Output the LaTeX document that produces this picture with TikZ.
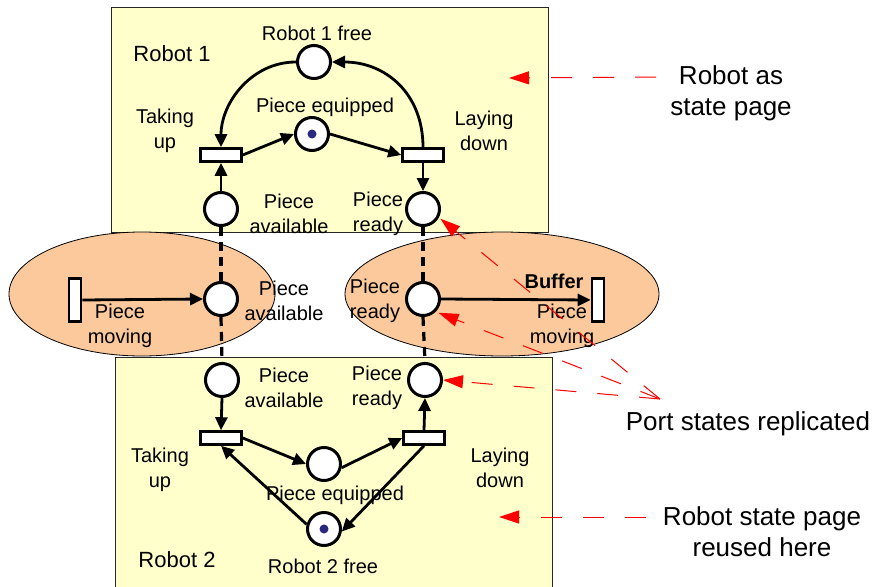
\documentclass[tikz,border=0pt]{standalone}
\usepackage{fontspec}
\setmainfont{Liberation Sans}
\usetikzlibrary{arrows.meta}
\definecolor{pagefill}{HTML}{FFFFCC}
\definecolor{portfill}{HTML}{FBC99B}
\definecolor{tokenblue}{HTML}{28287E}
\definecolor{notered}{HTML}{FF0000}

\begin{document}
\begin{tikzpicture}[x=1pt,y=-1pt,
  place/.style={circle,draw,fill=white,line width=3pt,minimum size=33pt,inner sep=0pt},
  trans/.style={rectangle,draw,fill=white,line width=2.6pt,minimum width=41pt,minimum height=13pt,inner sep=0pt},
  vtrans/.style={rectangle,draw,fill=white,line width=2.6pt,minimum width=12pt,minimum height=43pt,inner sep=0pt},
  flow/.style={line width=2.8pt,-{Triangle[length=13pt,width=12pt]}},
  portlink/.style={line width=3.2pt,dash pattern=on 9pt off 6pt},
  lbl/.style={font=\fontsize{20}{24.5}\selectfont,align=center,inner sep=0pt},
  pagename/.style={font=\fontsize{22}{26}\selectfont,inner sep=0pt},
  remark/.style={font=\fontsize{26}{31}\selectfont,align=center,inner sep=0pt},
  pointer/.style={draw=notered,line width=1pt,dash pattern=on 21pt off 21pt,-{Triangle[length=20pt,width=13pt]}},
]
\useasboundingbox (0,0) rectangle (872,586);

% robot state pages
\path[draw=black!85,line width=1pt,fill=pagefill] (111,8) rectangle (548,232);
\path[draw=black!85,line width=1pt,fill=pagefill] (115,357) rectangle (552,592);

% port regions
\draw[fill=portfill,line width=0.8pt] (142,294) ellipse [x radius=133pt, y radius=62pt];
\draw[fill=portfill,line width=0.8pt] (502,294) ellipse [x radius=157pt, y radius=62pt];

% robot 1
\node[place] (r1f) at (314,62) {};
\node[place] (pe1) at (312,134) {};
\node[place] (pa1) at (221,209) {};
\node[place] (pr1) at (423,209) {};
\node[trans] (tu1) at (221,155) {};
\node[trans] (ld1) at (423,155) {};

% ports
\node[place] (pa2) at (221,299) {};
\node[place] (pr2) at (423,299) {};
\node[vtrans] (tm1) at (75,300) {};
\node[vtrans] (tm2) at (598,300) {};

% robot 2
\node[place] (pa3) at (222,380) {};
\node[place] (pr3) at (425,380) {};
\node[trans] (tu2) at (221,438) {};
\node[trans] (ld2) at (424,438) {};
\node[place] (pe2) at (324,464) {};
\node[place] (r2f) at (324,529) {};

% tokens
\fill[tokenblue] (pe1) circle (4.5pt);
\fill[tokenblue] (r2f) circle (4.5pt);

% arcs of robot 1
\draw[flow] (r1f.west) to[out=180,in=90] (tu1.north);
\draw[flow] (ld1.north) to[out=90,in=0,looseness=1.1] (r1f.east);
\draw[flow] (tu1.east) -- (pe1.west);
\draw[flow] (pe1.east) -- (ld1.west);
\draw[flow] (ld1.south) -- (pr1.north);
\draw[flow] (pa1.north) -- (tu1.south);

% replicated port states
\draw[portlink] (pa1.south) -- (pa2.north);
\draw[portlink] (pa2.south) -- (pa3.north);
\draw[portlink] (pr1.south) -- (pr2.north);
\draw[portlink] (pr2.south) -- (pr3.north);
\draw[flow] (tm1.east) -- (pa2.west);
\draw[flow] (pr2.east) -- (tm2.west);

% arcs of robot 2
\draw[flow] (pa3.south) -- (tu2.north);
\draw[flow] (ld2.north) -- (pr3.south);
\draw[flow] (tu2.east) -- (pe2.west);
\draw[flow] (pe2.-12) -- (ld2.west);
\draw[flow] (r2f.165) -- (tu2.south);
\draw[flow] (ld2.south) -- (r2f.-8);

% labels
\node[pagename] (n-r1) at (172,54) {Robot 1};
\node[lbl] (n-r1f) at (317,33) {Robot 1 free};
\node[lbl] (n-pe1) at (325,107) {Piece equipped};
\node[lbl] (n-tu1) at (165,131) {Taking\\up};
\node[lbl] (n-ld1) at (484,131) {Laying\\down};
\node[lbl] (n-pa1) at (289,214) {Piece\\available};
\node[lbl] (n-pr1) at (378,214) {Piece\\ready};

\node[lbl] (n-pa2) at (284,301) {Piece\\available};
\node[lbl] (n-tm1) at (120,326) {Piece\\moving};
\node[lbl] (n-pr2) at (375,301) {Piece\\ready};
\node[lbl,font=\fontsize{20}{24.5}\selectfont\bfseries] (n-buf) at (554,281) {Buffer};
\node[lbl] (n-tm2) at (562,326) {Piece\\moving};

\node[lbl] (n-pa3) at (284,388) {Piece\\available};
\node[lbl] (n-pr3) at (377,388) {Piece\\ready};
\node[lbl] (n-tu2) at (160,470) {Taking\\up};
\node[lbl] (n-ld2) at (500,468) {Laying\\down};
\node[lbl] (n-pe2) at (335,495) {Piece equipped};
\node[pagename] (n-r2) at (177,560) {Robot 2};
\node[lbl] (n-r2f) at (323,566) {Robot 2 free};

% remarks
\node[remark] (m-page) at (731,93) {Robot as\\state page};
\node[remark] (m-port) at (748,424) {Port states replicated};
\node[remark] (m-reuse) at (762,532) {Robot state page\\reused here};

\coordinate (p1s) at (656,77);
\coordinate (p1e) at (509,78);
\coordinate (p2s) at (646,517);
\coordinate (p2e) at (499,517);
\coordinate (hub) at (660,399);
\draw[pointer] (p1s) -- (p1e);
\draw[pointer] (p2s) -- (p2e);
\draw[pointer,shorten >=2pt] (hub) -- (pr1.-28);
\draw[pointer,shorten >=3pt] (hub) -- (pr2.-45);
\draw[pointer] (hub) -- (pr3.east);
\end{tikzpicture}
\end{document}
